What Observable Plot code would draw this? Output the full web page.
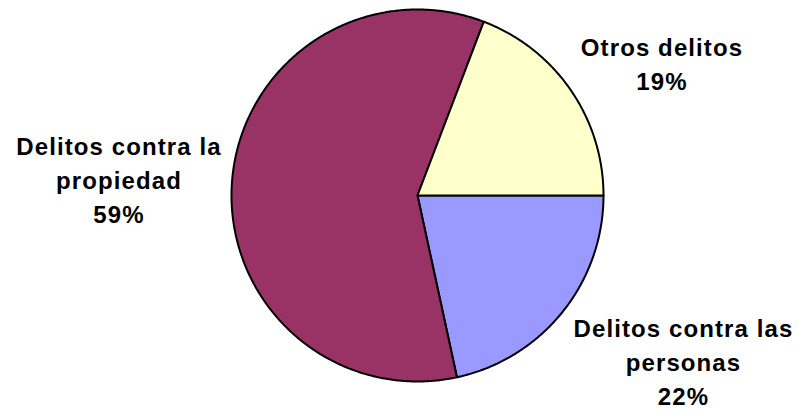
<!DOCTYPE html>
<html>
<head>
<meta charset="utf-8">
<script src="https://cdn.jsdelivr.net/npm/d3@7"></script>
<script src="https://cdn.jsdelivr.net/npm/@observablehq/plot@0.6"></script>
<style>
  html, body { margin: 0; padding: 0; background: #fff; }
  #chart svg { display: block; }
</style>
</head>
<body>
<div id="chart"></div>
<script>
// ---- data ----
const categories = ["Delitos contra las personas", "Delitos contra la propiedad", "Otros delitos"];
const labelLines = [["Delitos contra las", "personas"], ["Delitos contra la", "propiedad"], ["Otros delitos"]];
const values = [21.6, 59.2, 19.2];
const percentLabels = ["22%", "59%", "19%"];
const colors = ["#9999FF", "#993366", "#FFFFCC"];

// ---- layout (pixels) ----
const W = 799, H = 409;
const cx = 417, cy = 195, R = 186;
const labelPx = [[683, 360], [118.5, 177.5], [661.5, 62]];

// data coordinates: unit circle, scales set so 1 unit = R px
const xDomain = [(0 - cx) / R, (W - cx) / R];
const yDomain = [(cy - H) / R, (cy - 0) / R];

// build slice outlines from the values (start at 3 o'clock, clockwise)
const total = d3.sum(values);
const points = [];
let a0 = 0;
categories.forEach((cat, i) => {
  const sweep = values[i] / total * 2 * Math.PI;
  const a1 = a0 + sweep;
  points.push({cat, x: 0, y: 0});
  const n = Math.max(2, Math.ceil(sweep / (Math.PI / 360)));
  for (let k = 0; k <= n; k++) {
    const a = a0 + sweep * k / n;
    points.push({cat, x: Math.cos(a), y: -Math.sin(a)});
  }
  points.push({cat, x: 0, y: 0});
  a0 = a1;
});

const labels = categories.map((cat, i) => ({
  text: [...labelLines[i], percentLabels[i]].join("\n"),
  x: (labelPx[i][0] - cx) / R,
  y: (cy - labelPx[i][1]) / R
}));

const chart = Plot.plot({
  width: W,
  height: H,
  margin: 0,
  x: {domain: xDomain, axis: null},
  y: {domain: yDomain, axis: null},
  color: {domain: categories, range: colors},
  style: {background: "#fff"},
  marks: [
    Plot.line(points, {
      x: "x", y: "y", z: "cat", fill: "cat",
      stroke: "#000", strokeWidth: 2, strokeLinejoin: "round", curve: "linear"
    }),
    Plot.text(labels, {
      x: "x", y: "y", text: "text",
      fontSize: 24, fontWeight: "bold", fontFamily: "'Liberation Sans', Arial, sans-serif",
      fill: "#000", textAnchor: "middle", lineAnchor: "middle", lineHeight: 1.42
    })
  ]
});
chart.querySelectorAll("text").forEach(t => t.style.letterSpacing = "1.1px");
document.getElementById("chart").appendChild(chart);
</script>
</body>
</html>
